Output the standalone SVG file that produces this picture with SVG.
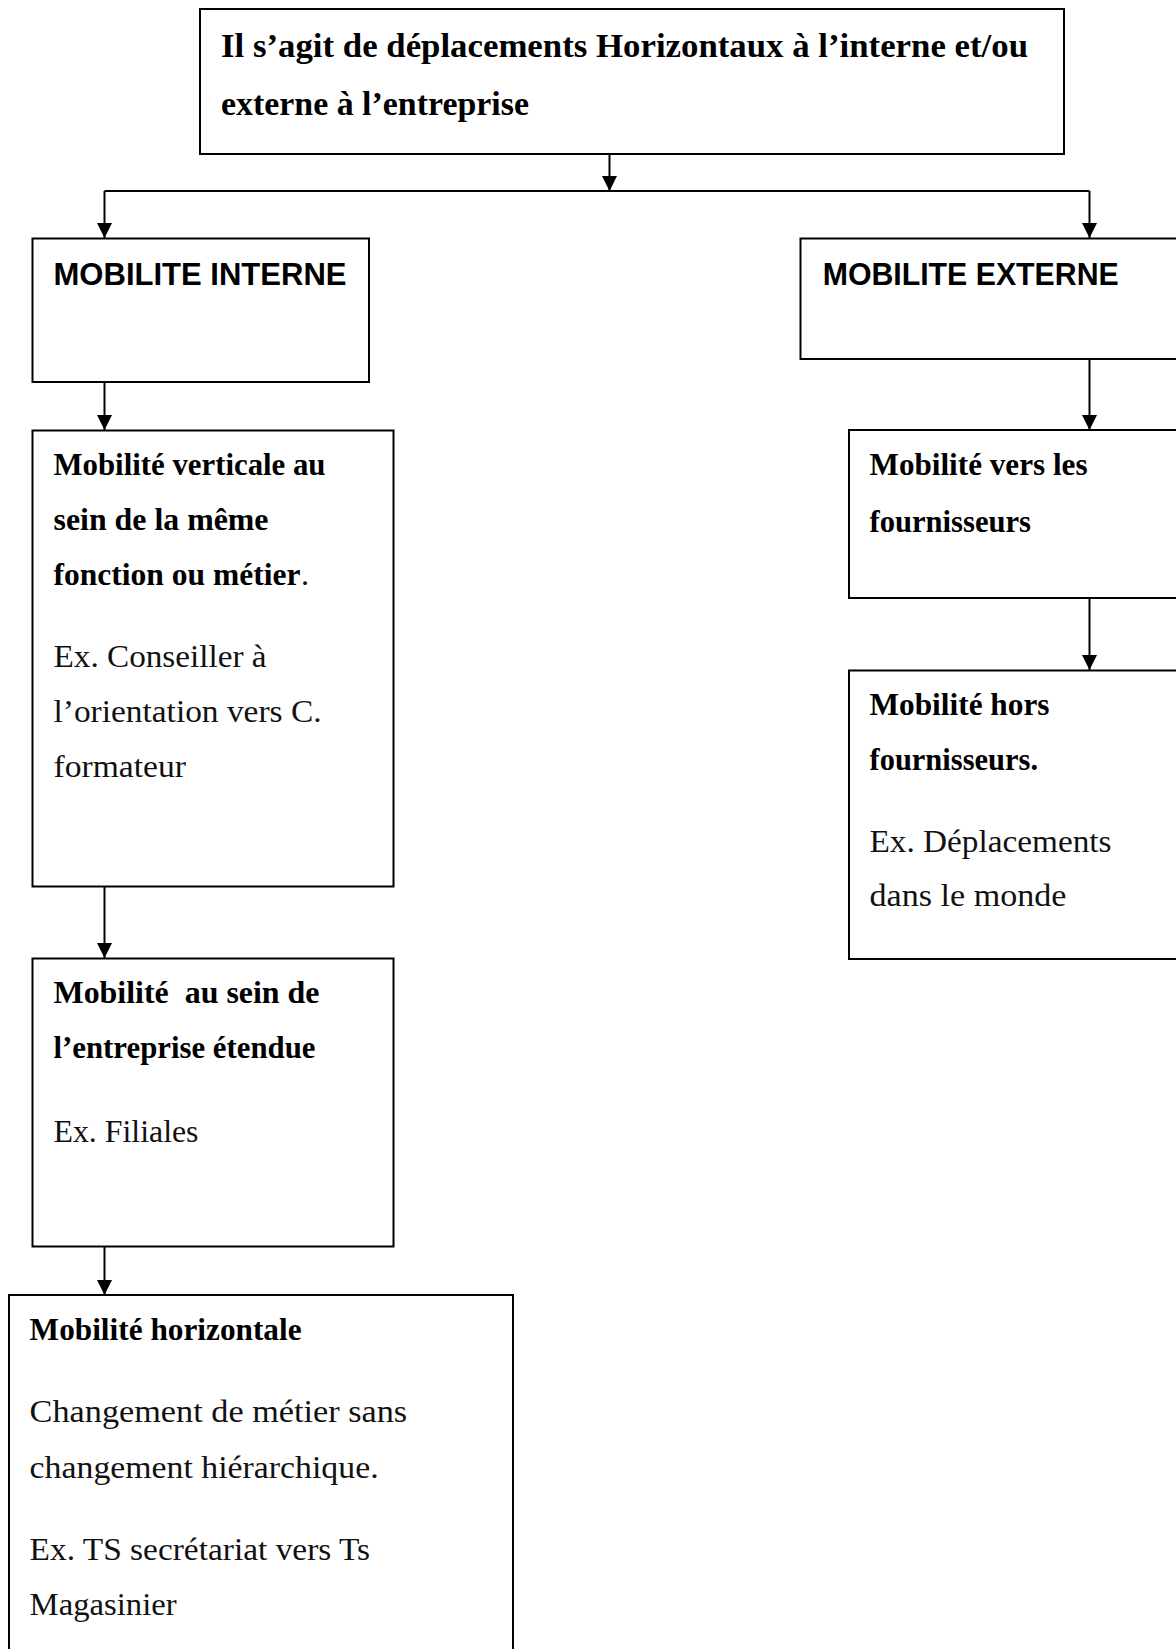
<svg xmlns="http://www.w3.org/2000/svg" width="1176" height="1649" viewBox="0 0 1176 1649">
<style>
.box{fill:#fff;stroke:#000;stroke-width:2}
.h{font-family:"Liberation Serif",serif;font-weight:bold;font-size:32px;fill:#000}
.ht{font-family:"Liberation Serif",serif;font-weight:bold;font-size:34px;fill:#000}
.n{font-family:"Liberation Serif",serif;font-size:32px;fill:#111}
.s{font-family:"Liberation Sans",sans-serif;font-weight:bold;font-size:31px;fill:#000}
.c{fill:none;stroke:#000;stroke-width:2}
</style>
<defs>
<marker id="ah" viewBox="0 0 14 14" refX="14" refY="7" markerWidth="15" markerHeight="15" markerUnits="userSpaceOnUse" orient="auto">
<path d="M0,0 L14,7 L0,14 Z" fill="#000"/>
</marker>
</defs>
<rect width="1176" height="1649" fill="#fff"/>
<g id="connectors">
<path class="c" d="M609.5,154 V191" marker-end="url(#ah)"/>
<path class="c" d="M104.5,191 H1089.5"/>
<path class="c" d="M104.5,191 V238" marker-end="url(#ah)"/>
<path class="c" d="M1089.5,191 V238" marker-end="url(#ah)"/>
<path class="c" d="M104.5,382 V430" marker-end="url(#ah)"/>
<path class="c" d="M104.5,887 V958" marker-end="url(#ah)"/>
<path class="c" d="M104.5,1247 V1295" marker-end="url(#ah)"/>
<path class="c" d="M1089.5,359 V430" marker-end="url(#ah)"/>
<path class="c" d="M1089.5,598 V670" marker-end="url(#ah)"/>
</g>
<g id="top">
<rect class="box" x="200" y="9" width="864" height="145"/>
<text class="ht" x="221" y="57" textLength="807" lengthAdjust="spacingAndGlyphs">Il s’agit de déplacements Horizontaux à l’interne et/ou</text>
<text class="ht" x="221" y="115" textLength="308" lengthAdjust="spacingAndGlyphs">externe à l’entreprise</text>
</g>
<g id="mobilite-interne">
<rect class="box" x="32.5" y="238.5" width="336.5" height="143.5"/>
<text class="s" x="53.5" y="285" textLength="293" lengthAdjust="spacingAndGlyphs">MOBILITE INTERNE</text>
</g>
<g id="mobilite-externe">
<rect class="box" x="800.5" y="238.5" width="420" height="120.5"/>
<text class="s" x="822.7" y="285" textLength="296" lengthAdjust="spacingAndGlyphs">MOBILITE EXTERNE</text>
</g>
<g id="mobilite-verticale">
<rect class="box" x="32.5" y="430.5" width="361" height="456"/>
<text class="h" x="53.5" y="475" textLength="272" lengthAdjust="spacingAndGlyphs">Mobilité verticale au</text>
<text class="h" x="53.5" y="530" textLength="215" lengthAdjust="spacingAndGlyphs">sein de la même</text>
<text class="h" x="53.5" y="585" textLength="247" lengthAdjust="spacingAndGlyphs">fonction ou métier</text>
<text class="n" x="301" y="585">.</text>
<text class="n" x="53.5" y="667" textLength="213" lengthAdjust="spacingAndGlyphs">Ex. Conseiller à</text>
<text class="n" x="53.5" y="722" textLength="268" lengthAdjust="spacingAndGlyphs">l’orientation vers C.</text>
<text class="n" x="53.5" y="777" textLength="132.5" lengthAdjust="spacingAndGlyphs">formateur</text>
</g>
<g id="mobilite-entreprise">
<rect class="box" x="32.5" y="958.5" width="361" height="288"/>
<text class="h" x="53.5" y="1003" textLength="266" lengthAdjust="spacingAndGlyphs" style="white-space:pre">Mobilité  au sein de</text>
<text class="h" x="53.5" y="1058" textLength="262" lengthAdjust="spacingAndGlyphs">l’entreprise étendue</text>
<text class="n" x="53.5" y="1141.5" textLength="145" lengthAdjust="spacingAndGlyphs">Ex. Filiales</text>
</g>
<g id="mobilite-horizontale">
<rect class="box" x="9" y="1295" width="504" height="420"/>
<text class="h" x="29.6" y="1340" textLength="272" lengthAdjust="spacingAndGlyphs">Mobilité horizontale</text>
<text class="n" x="29.6" y="1422" textLength="377.6" lengthAdjust="spacingAndGlyphs">Changement de métier sans</text>
<text class="n" x="29.6" y="1478" textLength="349" lengthAdjust="spacingAndGlyphs">changement hiérarchique.</text>
<text class="n" x="29.6" y="1560" textLength="340.5" lengthAdjust="spacingAndGlyphs">Ex. TS secrétariat vers Ts</text>
<text class="n" x="29.6" y="1615" textLength="147" lengthAdjust="spacingAndGlyphs">Magasinier</text>
</g>
<g id="mobilite-fournisseurs">
<rect class="box" x="849" y="430" width="400" height="168"/>
<text class="h" x="869.5" y="475" textLength="218" lengthAdjust="spacingAndGlyphs">Mobilité vers les</text>
<text class="h" x="869.5" y="531.5" textLength="161.5" lengthAdjust="spacingAndGlyphs">fournisseurs</text>
</g>
<g id="mobilite-hors">
<rect class="box" x="849" y="670.5" width="400" height="288.5"/>
<text class="h" x="869.5" y="715" textLength="180" lengthAdjust="spacingAndGlyphs">Mobilité hors</text>
<text class="h" x="869.5" y="770" textLength="168.5" lengthAdjust="spacingAndGlyphs">fournisseurs.</text>
<text class="n" x="869.5" y="851.5" textLength="242" lengthAdjust="spacingAndGlyphs">Ex. Déplacements</text>
<text class="n" x="869.5" y="906" textLength="197" lengthAdjust="spacingAndGlyphs">dans le monde</text>
</g>
</svg>
